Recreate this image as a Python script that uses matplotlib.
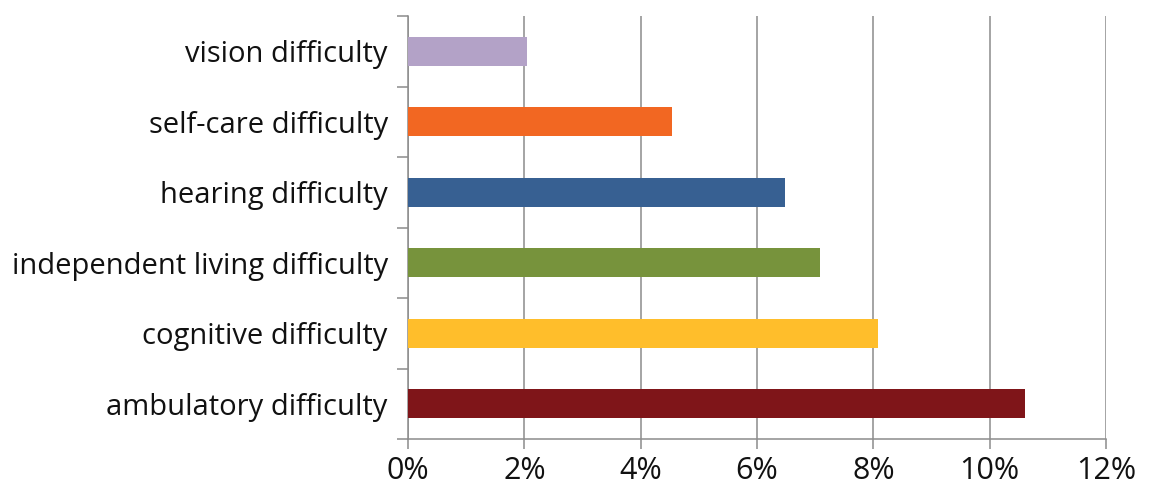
import numpy as np
import matplotlib.pyplot as plt
from matplotlib.ticker import FixedLocator, PercentFormatter

categories = ["ambulatory difficulty", "cognitive difficulty", "independent living difficulty",
              "hearing difficulty", "self-care difficulty", "vision difficulty"]
values = [10.61, 8.08, 7.08, 6.48, 4.54, 2.04]
colors = ["#7F1519", "#FFBE2B", "#77933C", "#376092", "#F26722", "#B3A2C7"]

plt.rcParams['font.family'] = ['Open Sans', 'DejaVu Sans']

fig = plt.figure(figsize=(11.5, 4.91), dpi=100)
ax = fig.add_axes([408 / 1150, 1 - 439 / 491, 698 / 1150, 423 / 491])

pos = np.arange(len(categories))
ax.barh(pos, values, height=0.41, color=colors, zorder=3)

ax.set_xlim(0, 12)
ax.set_ylim(-0.5, len(categories) - 0.5)
ax.set_xticks(np.arange(0, 13, 2))
ax.xaxis.set_major_formatter(PercentFormatter(decimals=0))
ax.set_yticks(pos)
ax.set_yticklabels(categories)
ax.yaxis.set_minor_locator(FixedLocator(np.arange(-0.5, len(categories), 1)))

ax.grid(axis='x', color='#8c8c8c', linewidth=1.1, zorder=0)
for s in ['top', 'right']:
    ax.spines[s].set_visible(False)
ax.spines['left'].set_color('#8c8c8c')
ax.spines['bottom'].set_color('#8c8c8c')
ax.spines['left'].set_linewidth(1.1)
ax.spines['bottom'].set_linewidth(1.1)

ax.tick_params(axis='y', which='major', length=0, pad=14.5, labelsize=21, labelcolor='#111111')
ax.tick_params(axis='y', which='minor', length=8, width=1.1, color='#8c8c8c')
ax.tick_params(axis='x', which='major', length=7.5, width=1.1, color='#8c8c8c',
               labelsize=22, pad=5, labelcolor='#111111')

fig.savefig("out.png", dpi=100)
